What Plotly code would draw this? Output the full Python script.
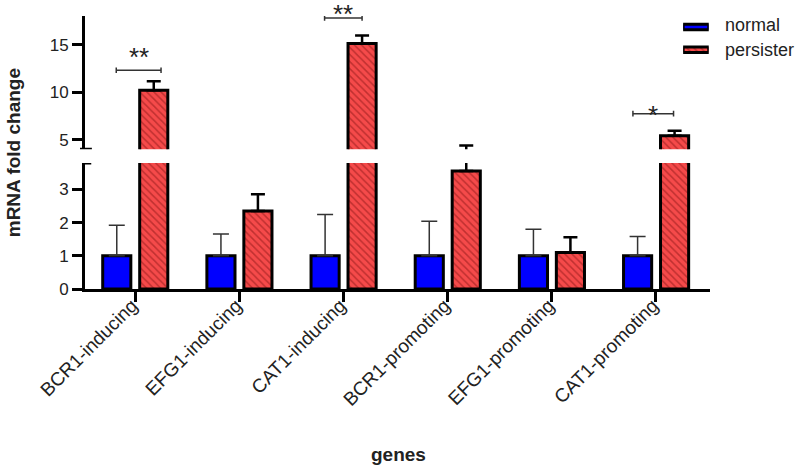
import plotly.graph_objects as go

genes = ["BCR1-inducing", "EFG1-inducing", "CAT1-inducing",
         "BCR1-promoting", "EFG1-promoting", "CAT1-promoting"]
normal = [1.0, 1.0, 1.0, 1.0, 1.0, 1.0]
normal_err = [0.92, 0.66, 1.25, 1.04, 0.80, 0.58]
persister = [10.2, 2.35, 15.1, 3.56, 1.10, 5.42]
persister_err = [0.95, 0.51, 0.85, 0.84, 0.46, 0.52]

# significance brackets: left / right index positions, bracket height, label
sig_left = [-0.18, 1.82, 4.78]
sig_right = [0.25, 2.18, 5.17]
sig_height = [12.3, 17.8, 7.73]
sig_label = ["**", "**", "*"]
sig_label_shift = [13, 4, -1]  # pixels above the bracket line

series_names = ["normal", "persister"]

FONT = "Liberation Sans, Arial, sans-serif"
TXT = "#222222"
BLUE = "#0000ff"
RED = "#f54a4a"
PATTERN = dict(shape="\\", fgcolor="#8a1515", bgcolor=RED, size=5, solidity=0.3)

fig = go.Figure()

for yax in ("y", "y2"):
    fig.add_trace(go.Bar(
        x=genes, y=normal, name="normal", yaxis=yax, showlegend=False,
        offset=-0.31, width=0.27,
        marker=dict(color=BLUE, line=dict(color="black", width=3)),
        error_y=dict(type="data", array=normal_err, arrayminus=[0] * 6,
                     symmetric=False, color="#333333", thickness=1.5, width=8),
    ))
    fig.add_trace(go.Bar(
        x=genes, y=persister, name="persister", yaxis=yax, showlegend=False,
        offset=0.045, width=0.27,
        marker=dict(color=RED, line=dict(color="black", width=3), pattern=PATTERN),
        error_y=dict(type="data", array=persister_err, arrayminus=[0] * 6,
                     symmetric=False, color="black", thickness=2.5, width=7),
    ))

# legend swatches drawn as small horizontal bars in their own tiny subplot
fig.add_trace(go.Bar(
    x=[1], y=[0.76], orientation="h", width=0.12, xaxis="x3", yaxis="y3",
    showlegend=False, hoverinfo="skip",
    marker=dict(color=BLUE, line=dict(color="black", width=3)),
))
fig.add_trace(go.Bar(
    x=[1], y=[0.26], orientation="h", width=0.12, xaxis="x3", yaxis="y3",
    showlegend=False, hoverinfo="skip",
    marker=dict(color=RED, line=dict(color="black", width=3), pattern=PATTERN),
))

shapes = []
annotations = []
for x0, x1, h, lab, sh in zip(sig_left, sig_right, sig_height, sig_label, sig_label_shift):
    shapes.append(dict(type="line", xref="x", yref="y2", x0=x0, x1=x1, y0=h, y1=h,
                       line=dict(color="#333333", width=1.5)))
    for xe in (x0, x1):
        shapes.append(dict(type="line", xref="x", yref="y2", x0=xe, x1=xe,
                           y0=h - 0.3, y1=h + 0.3, line=dict(color="#333333", width=1.5)))
    annotations.append(dict(x=(x0 + x1) / 2, y=h, xref="x", yref="y2", text=lab,
                            showarrow=False, yanchor="middle", yshift=sh,
                            font=dict(family=FONT, size=26, color=TXT)))

# axis break caps
shapes.append(dict(type="line", xref="paper", yref="y2", x0=-0.008, x1=0.011, y0=4, y1=4,
                   line=dict(color="black", width=3)))
shapes.append(dict(type="line", xref="paper", yref="y", x0=-0.003, x1=0.010, y0=3.8, y1=3.8,
                   line=dict(color="black", width=3)))

# legend labels
for name, yy in zip(series_names, [0.968, 0.875]):
    annotations.append(dict(x=1.021, y=yy, xref="paper", yref="paper", text=name,
                            xanchor="left", yanchor="middle", showarrow=False,
                            font=dict(family=FONT, size=18, color=TXT)))

annotations.append(dict(x=-0.114, y=0.5, xref="paper", yref="paper",
                        xanchor="center", yanchor="middle",
                        text="<b>mRNA fold change</b>", textangle=-90, showarrow=False,
                        font=dict(family=FONT, size=19, color=TXT)))
annotations.append(dict(x=0.502, y=-0.607, xref="paper", yref="paper",
                        xanchor="center", yanchor="middle",
                        text="<b>genes</b>", showarrow=False,
                        font=dict(family=FONT, size=19, color=TXT)))

axis_common = dict(showline=True, linecolor="black", linewidth=3, ticks="outside",
                   ticklen=10, tickwidth=3, tickcolor="black", showgrid=False,
                   zeroline=False, tickfont=dict(family=FONT, size=17, color=TXT))

fig.update_layout(
    width=800, height=469,
    margin=dict(l=85, r=90, t=16, b=180),
    paper_bgcolor="white", plot_bgcolor="rgba(0,0,0,0)",
    barmode="overlay",
    showlegend=False,
    font=dict(family=FONT, size=15, color=TXT),
    xaxis=dict(type="category", range=[-0.48, 5.52], tickangle=-45, anchor="y",
               ticklabelshift=-3, ticklabelstandoff=-15,
               **{**axis_common, "tickfont": dict(family=FONT, size=19, color=TXT)}),
    yaxis=dict(domain=[0, 0.4615], range=[0, 3.8], tickvals=[0, 1, 2, 3],
               anchor="x", **axis_common),
    yaxis2=dict(domain=[0.512, 1], range=[4, 18], tickvals=[5, 10, 15],
                anchor="x", **axis_common),
    xaxis3=dict(domain=[0.957, 0.998], range=[0, 1], visible=False, anchor="y3",
                fixedrange=True),
    yaxis3=dict(domain=[0.833, 1.0], range=[0, 1], visible=False, anchor="x3",
                fixedrange=True),
    shapes=shapes,
    annotations=annotations,
)

fig.write_html(
    "out.html",
    config={"displayModeBar": False},
    post_script="document.body.style.margin='0';document.body.style.overflow='hidden';",
)
